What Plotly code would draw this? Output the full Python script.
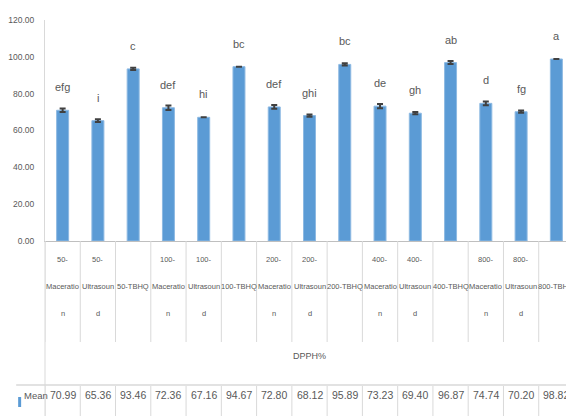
import plotly.graph_objects as go

categories = ["50-Maceration", "50-Ultrasound", "50-TBHQ",
              "100-Maceration", "100-Ultrasound", "100-TBHQ",
              "200-Maceration", "200-Ultrasound", "200-TBHQ",
              "400-Maceration", "400-Ultrasound", "400-TBHQ",
              "800-Maceration", "800-Ultrasound", "800-TBHQ"]
mean_values = [70.99, 65.36, 93.46, 72.36, 67.16, 94.67, 72.80, 68.12, 95.89,
               73.23, 69.40, 96.87, 74.74, 70.20, 98.82]
errors = [1.0, 0.7, 0.6, 1.2, 0.0, 0.0, 1.0, 0.6, 0.6, 1.2, 0.6, 0.8, 1.0, 0.6, 0.0]
letters = ["efg", "i", "c", "def", "hi", "bc", "def", "ghi", "bc",
           "de", "gh", "ab", "d", "fg", "a"]
series_name = "Mean"
group_label = "DPPH%"
y_ticks = [0, 20, 40, 60, 80, 100, 120]

FONT = "Liberation Sans, Arial, sans-serif"
TXT = "#595959"
GRID = "#d9d9d9"
BLUE = "#5B9BD5"

# the page places the figure 8px in from the top-left corner (body margin)
OFF = 8
PAGE_W, PAGE_H = 574, 416
W, H = PAGE_W - OFF, PAGE_H - OFF
# plot area in page pixels
PL, PR, PT, PB = 42, 574, 20, 241
L, R, T, B = PL - OFF, PAGE_W - PR, PT - OFF, PAGE_H - PB
plot_h = PB - PT
plot_w = PR - PL


def py(pix):
    return (PB - pix) / plot_h


def px(pix):
    return (pix - PL) / plot_w


def wrap(name, n=9):
    if len(name) <= n:
        return [name]
    head, tail = name.split("-", 1)
    lines = [head + "-"]
    while tail:
        lines.append(tail[:n])
        tail = tail[n:]
    return lines


fig = go.Figure()
fig.add_trace(go.Bar(
    x=categories, y=mean_values, name=series_name,
    marker=dict(color=BLUE, line=dict(color="#8DB9E2", width=1)),
    width=0.34,
    error_y=dict(type="data", array=errors, visible=True,
                 color="#404040", thickness=2, width=3),
    showlegend=False,
))

ann = []
# significance letters
for c, v, e, lt in zip(categories, mean_values, errors, letters):
    ann.append(dict(x=c, y=v + 12.5, xref="x", yref="y", text=lt, showarrow=False,
                    font=dict(family=FONT, size=11, color=TXT)))

# category labels (table header)
line_y = [266, 293, 320]
for c in categories:
    lines = wrap(c)
    ys = [293] if len(lines) == 1 else line_y[:len(lines)]
    for t, yy in zip(lines, ys):
        ann.append(dict(x=c, y=py(yy), xref="x", yref="paper", text=t, showarrow=False,
                        font=dict(family=FONT, size=7.5, color=TXT)))

# group label
ann.append(dict(x=0.5, y=py(363), xref="paper", yref="paper", text=group_label,
                showarrow=False, font=dict(family=FONT, size=9, color=TXT)))

# data table row
for c, v in zip(categories, mean_values):
    ann.append(dict(x=c, y=py(403), xref="x", yref="paper", text=f"{v:.2f}",
                    showarrow=False, font=dict(family=FONT, size=10.5, color=TXT)))
ann.append(dict(x=px(19), y=py(403), xref="paper", yref="paper", text=series_name,
                xanchor="left", showarrow=False, font=dict(family=FONT, size=9.5, color=TXT)))

shapes = []
n = len(categories)
for i in range(n + 1):
    xb = i - 0.5
    shapes.append(dict(type="line", xref="x", yref="paper", x0=xb, x1=xb,
                       y0=py(241), y1=py(342), line=dict(color=GRID, width=1)))
    shapes.append(dict(type="line", xref="x", yref="paper", x0=xb, x1=xb,
                       y0=py(386), y1=py(416), line=dict(color=GRID, width=1)))
shapes.append(dict(type="line", xref="paper", yref="paper", x0=0, x1=0,
                   y0=py(241), y1=py(416), line=dict(color=GRID, width=1)))
shapes.append(dict(type="line", xref="paper", yref="paper", x0=px(13), x1=1,
                   y0=py(385), y1=py(385), line=dict(color=GRID, width=1.5)))
# legend key
shapes.append(dict(type="rect", xref="paper", yref="paper", x0=px(15), x1=px(18),
                   y0=py(407), y1=py(397), fillcolor=BLUE, line=dict(width=0)))

fig.update_layout(
    width=W, height=H,
    margin=dict(l=L, r=R, t=T, b=B, pad=0),
    paper_bgcolor="white", plot_bgcolor="white",
    font=dict(family=FONT, color=TXT),
    xaxis=dict(type="category", showticklabels=False, ticks="", showgrid=False,
               showline=True, linecolor="#bfbfbf", linewidth=1, zeroline=False,
               range=[-0.5, n - 0.5]),
    yaxis=dict(range=[0, 120], tickvals=y_ticks, tickformat=".2f", showgrid=False,
               showline=True, linecolor="#d9d9d9", linewidth=1, zeroline=False,
               ticks="", tickfont=dict(family=FONT, size=8.5, color=TXT),
               ticklabelstandoff=8),
    annotations=ann, shapes=shapes,
)

fig.write_html("out.html")
